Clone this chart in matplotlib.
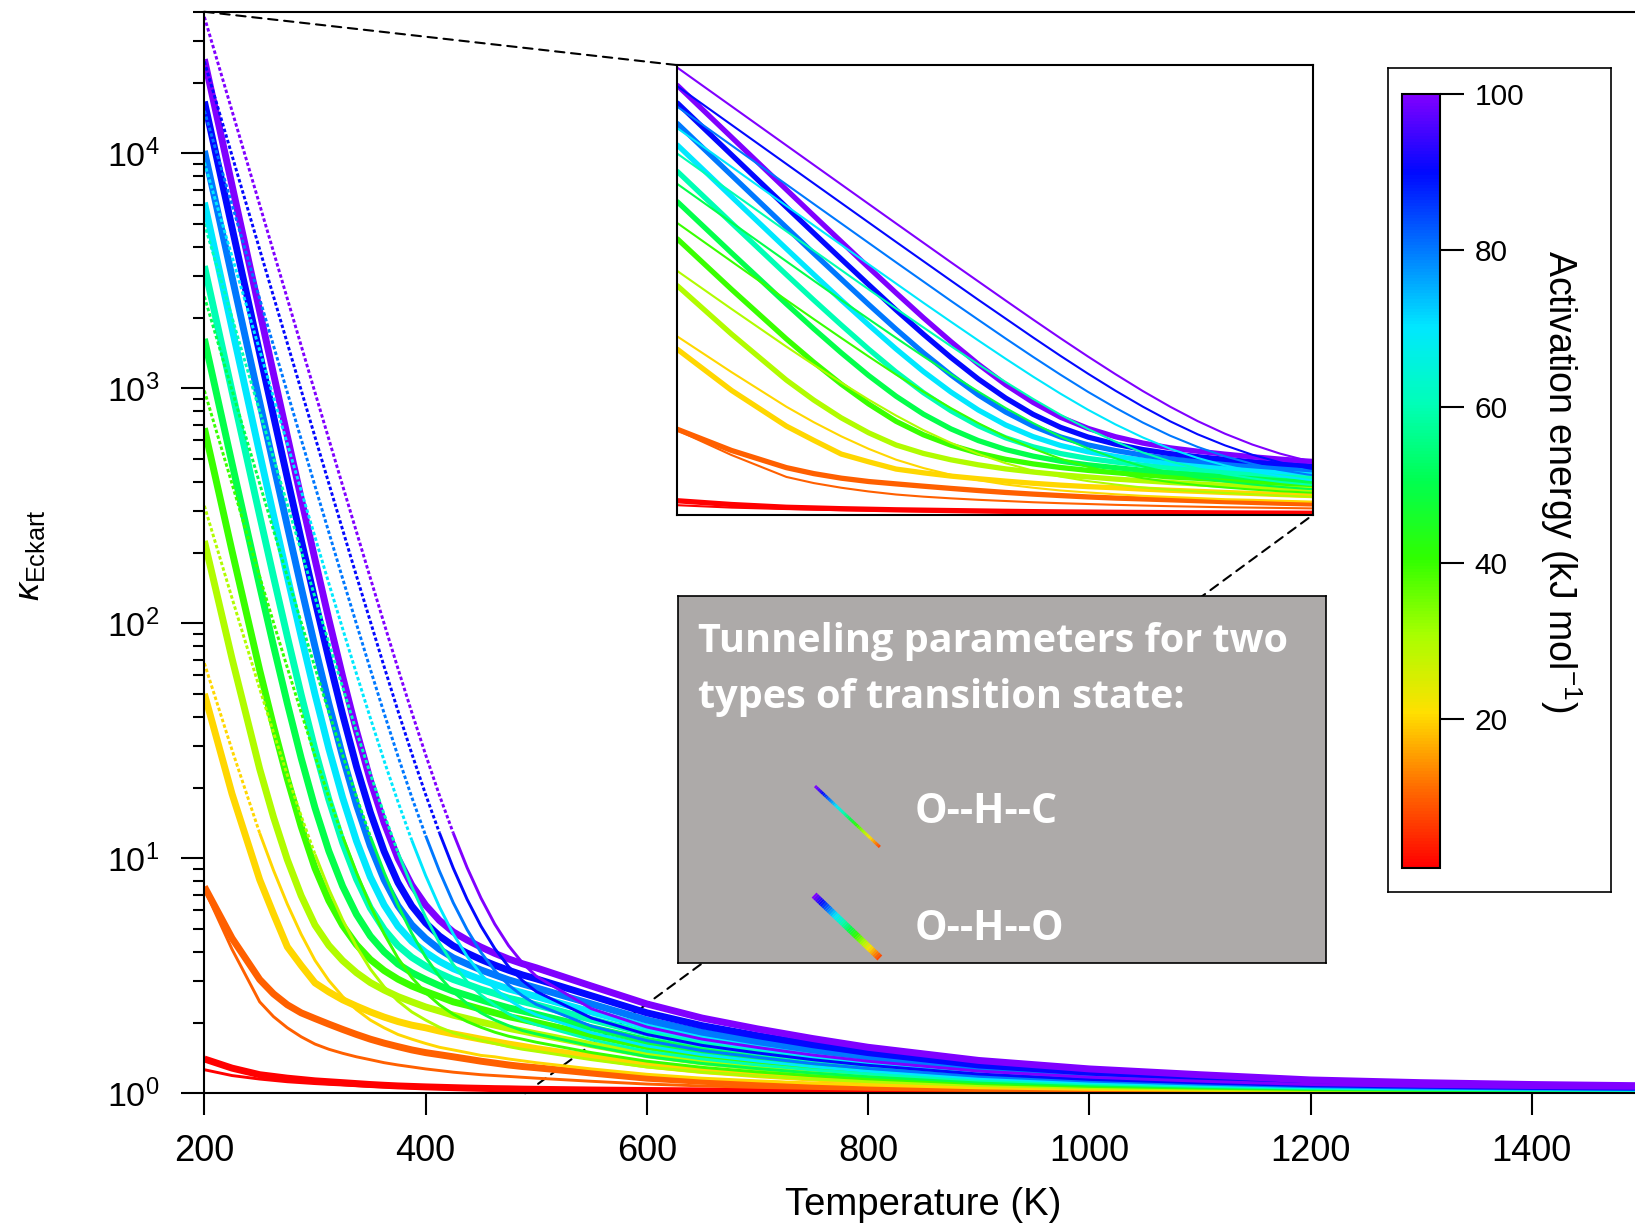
import matplotlib
matplotlib.use("Agg")
import matplotlib.pyplot as plt
import matplotlib.ticker as ticker
from matplotlib.colors import LinearSegmentedColormap, Normalize
from matplotlib.cm import ScalarMappable
from matplotlib.patches import ConnectionPatch
from matplotlib.collections import LineCollection
import numpy as np

temps = [200, 225, 250, 262.5, 275, 287.5, 300, 312.5, 325, 337.5,
         350, 362.5, 375, 387.5, 400, 412.5, 425, 437.5, 450, 462.5, 475,
         487.5, 500, 550, 600, 650, 700, 750, 800, 900, 1000, 1100, 1200,
         1300, 1400, 1500]

# activation energies (kJ/mol), one curve of each TS type per value
ea_values = [1, 10, 20, 30, 40, 50, 60, 70, 80, 90, 100]

# O--H--O transition states (thick lines)
oho_ea1 = [1.40, 1.28, 1.20, 1.18, 1.16, 1.145, 1.13, 1.12, 1.11, 1.10,
           1.09, 1.082, 1.075, 1.07, 1.065, 1.061, 1.057, 1.053, 1.05, 1.047, 1.045,
           1.042, 1.04, 1.033, 1.028, 1.024, 1.02, 1.017, 1.015, 1.011, 1.009,
           1.007, 1.006, 1.005, 1.0045, 1.004]
oho_ea10 = [7.57, 4.57, 3.05, 2.65, 2.38, 2.2, 2.08, 1.97, 1.87, 1.78,
            1.70, 1.635, 1.58, 1.53, 1.49, 1.46, 1.43, 1.40, 1.37, 1.345, 1.32,
            1.30, 1.285, 1.22, 1.16, 1.125, 1.10, 1.081, 1.066, 1.043, 1.03,
            1.022, 1.016, 1.013, 1.01, 1.009]
oho_ea20 = [50.1, 18.8, 8.11, 5.8, 4.2, 3.5, 2.95, 2.7, 2.5, 2.35,
            2.22, 2.11, 2.02, 1.95, 1.90, 1.84, 1.79, 1.745, 1.70, 1.66, 1.62,
            1.585, 1.55, 1.43, 1.32, 1.25, 1.20, 1.16, 1.13, 1.086, 1.061,
            1.045, 1.032, 1.025, 1.02, 1.018]
oho_ea30 = [224, 70.8, 24.0, 14.97, 9.86, 6.93, 5.20, 4.26, 3.67, 3.26,
            2.96, 2.75, 2.58, 2.45, 2.33, 2.24, 2.15, 2.08, 2.01, 1.95, 1.89,
            1.84, 1.79, 1.61, 1.46, 1.36, 1.29, 1.23, 1.19, 1.124, 1.087,
            1.064, 1.046, 1.036, 1.029, 1.025]
oho_ea40 = [676, 203, 63.2, 36.5, 21.8, 13.66, 9.08, 6.61, 5.18, 4.29,
            3.71, 3.33, 3.06, 2.86, 2.71, 2.58, 2.45, 2.37, 2.28, 2.20, 2.12,
            2.06, 2.00, 1.77, 1.58, 1.45, 1.365, 1.29, 1.24, 1.157, 1.11,
            1.081, 1.058, 1.046, 1.037, 1.032]
oho_ea50 = [1622, 479, 144, 80.2, 45.6, 26.7, 16.4, 10.74, 7.60, 5.77,
            4.67, 4.00, 3.55, 3.26, 3.05, 2.87, 2.72, 2.61, 2.50, 2.40, 2.31,
            2.24, 2.17, 1.90, 1.68, 1.53, 1.43, 1.34, 1.28, 1.184, 1.13,
            1.095, 1.068, 1.054, 1.044, 1.037]
oho_ea60 = [3311, 970, 287, 157.7, 87.8, 49.7, 29.0, 17.8, 11.65, 8.17,
            6.15, 4.98, 4.25, 3.79, 3.48, 3.24, 3.05, 2.91, 2.77, 2.66, 2.54,
            2.46, 2.38, 2.06, 1.80, 1.62, 1.50, 1.40, 1.33, 1.22, 1.152,
            1.112, 1.08, 1.063, 1.051, 1.044]
oho_ea70 = [6166, 1800, 528, 288, 158, 88.0, 49.9, 29.3, 18.1, 11.85,
            8.33, 6.33, 5.14, 4.43, 3.98, 3.64, 3.39, 3.21, 3.05, 2.91, 2.78,
            2.68, 2.58, 2.22, 1.92, 1.72, 1.58, 1.46, 1.38, 1.25, 1.175,
            1.129, 1.092, 1.073, 1.059, 1.051]
oho_ea80 = [10233, 2981, 872, 473, 259, 142.4, 79.5, 45.5, 27.1, 16.9,
            11.3, 8.11, 6.28, 5.21, 4.56, 4.10, 3.77, 3.55, 3.35, 3.19, 3.04,
            2.92, 2.81, 2.40, 2.05, 1.82, 1.66, 1.53, 1.43, 1.28, 1.20,
            1.147, 1.105, 1.083, 1.067, 1.058]
oho_ea90 = [16596, 4829, 1409, 763, 415, 227, 125, 70.6, 40.9, 24.6,
            15.7, 10.7, 7.88, 6.27, 5.31, 4.67, 4.24, 3.95, 3.71, 3.51, 3.34,
            3.19, 3.07, 2.60, 2.20, 1.94, 1.76, 1.61, 1.49, 1.32, 1.23,
            1.17, 1.12, 1.095, 1.077, 1.066]
oho_ea100 = [25119, 7304, 2128, 1151, 625, 340, 187, 104, 59.4, 34.9,
             21.5, 14.16, 10.0, 7.69, 6.32, 5.44, 4.86, 4.49, 4.19, 3.94, 3.73,
             3.56, 3.42, 2.86, 2.40, 2.09, 1.88, 1.71, 1.57, 1.38, 1.27,
             1.20, 1.14, 1.11, 1.09, 1.077]

# O--H--C transition states (thin lines)
ohc_ea1 = [1.26, 1.19, 1.15, 1.135, 1.12, 1.11, 1.10, 1.092, 1.085, 1.077,
           1.07, 1.065, 1.06, 1.055, 1.05, 1.047, 1.045, 1.042, 1.04, 1.037, 1.035,
           1.032, 1.03, 1.025, 1.02, 1.017, 1.015, 1.013, 1.011, 1.009, 1.007,
           1.005, 1.004, 1.0035, 1.003, 1.003]
ohc_ea10 = [7.4, 4.1, 2.45, 2.12, 1.9, 1.74, 1.62, 1.54, 1.48, 1.43,
            1.39, 1.35, 1.32, 1.295, 1.27, 1.25, 1.23, 1.215, 1.20, 1.19, 1.18,
            1.17, 1.16, 1.125, 1.095, 1.075, 1.06, 1.049, 1.04, 1.027, 1.018,
            1.013, 1.01, 1.007, 1.005, 1.004]
ohc_ea20 = [67.6, 28.9, 12.8, 8.89, 6.38, 4.75, 3.68, 3.02, 2.58, 2.27,
            2.05, 1.90, 1.78, 1.70, 1.63, 1.57, 1.53, 1.49, 1.45, 1.43, 1.40,
            1.375, 1.35, 1.27, 1.205, 1.16, 1.13, 1.104, 1.084, 1.055, 1.039,
            1.029, 1.02, 1.016, 1.013, 1.011]
ohc_ea30 = [316, 128, 52.7, 34.3, 22.6, 15.13, 10.4, 7.38, 5.47, 4.21,
            3.38, 2.84, 2.47, 2.22, 2.05, 1.91, 1.81, 1.74, 1.68, 1.63, 1.58,
            1.54, 1.51, 1.39, 1.295, 1.23, 1.186, 1.149, 1.121, 1.08, 1.056,
            1.041, 1.03, 1.023, 1.019, 1.016]
ohc_ea40 = [977, 392, 158, 100.8, 64.7, 41.8, 27.3, 18.21, 12.4, 8.70,
            6.30, 4.77, 3.76, 3.11, 2.68, 2.38, 2.17, 2.02, 1.91, 1.82, 1.75,
            1.70, 1.65, 1.49, 1.37, 1.29, 1.233, 1.187, 1.152, 1.10, 1.07,
            1.052, 1.037, 1.029, 1.024, 1.02]
ohc_ea50 = [2455, 981, 393, 249, 158, 101, 64.8, 41.9, 27.5, 18.29,
            12.4, 8.71, 6.32, 4.79, 3.80, 3.14, 2.70, 2.41, 2.20, 2.05, 1.94,
            1.85, 1.79, 1.59, 1.435, 1.34, 1.274, 1.22, 1.178, 1.117, 1.083,
            1.061, 1.044, 1.034, 1.028, 1.024]
ohc_ea60 = [5012, 1999, 798, 505, 320, 203, 129, 82.8, 53.4, 34.7,
            22.9, 15.4, 10.6, 7.58, 5.63, 4.36, 3.53, 2.99, 2.62, 2.37, 2.18,
            2.05, 1.96, 1.69, 1.51, 1.40, 1.32, 1.258, 1.209, 1.138, 1.097,
            1.071, 1.051, 1.04, 1.033, 1.028]
ohc_ea70 = [9120, 3635, 1450, 916, 580, 367, 233, 148, 94.8, 61.0,
            39.6, 26.0, 17.4, 11.93, 8.45, 6.21, 4.76, 3.83, 3.21, 2.79, 2.50,
            2.30, 2.16, 1.81, 1.59, 1.46, 1.372, 1.298, 1.242, 1.159, 1.112,
            1.083, 1.059, 1.047, 1.038, 1.032]
ohc_ea80 = [15136, 6031, 2404, 1518, 960, 607, 384, 244, 155, 99.3,
            63.8, 41.4, 27.2, 18.19, 12.5, 8.82, 6.47, 4.97, 3.98, 3.33, 2.89,
            2.60, 2.39, 1.93, 1.676, 1.52, 1.422, 1.338, 1.275, 1.181, 1.127,
            1.094, 1.067, 1.053, 1.043, 1.037]
ohc_ea90 = [24547, 9778, 3896, 2460, 1554, 982, 621, 394, 250, 159,
            102, 65.4, 42.4, 27.9, 18.7, 12.83, 9.08, 6.69, 5.15, 4.13, 3.46,
            3.02, 2.71, 2.09, 1.78, 1.60, 1.485, 1.39, 1.316, 1.208, 1.146,
            1.108, 1.077, 1.061, 1.049, 1.042]
ohc_ea100 = [38019, 15142, 6032, 3808, 2405, 1519, 960, 608, 385, 245,
             156, 99.7, 64.2, 41.8, 27.6, 18.54, 12.8, 9.13, 6.78, 5.25, 4.25,
             3.59, 3.15, 2.29, 1.915, 1.70, 1.567, 1.455, 1.369, 1.243, 1.171,
             1.126, 1.09, 1.071, 1.058, 1.05]

oho_curves = [oho_ea1, oho_ea10, oho_ea20, oho_ea30, oho_ea40, oho_ea50,
              oho_ea60, oho_ea70, oho_ea80, oho_ea90, oho_ea100]
ohc_curves = [ohc_ea1, ohc_ea10, ohc_ea20, ohc_ea30, ohc_ea40, ohc_ea50,
              ohc_ea60, ohc_ea70, ohc_ea80, ohc_ea90, ohc_ea100]

cbar_ticks = [20, 40, 60, 80, 100]

# igor-like rainbow, red at low Ea to violet at high Ea
rainbow = ["#FF0000", "#FF6A00", "#FFE000", "#A8FF00", "#30FF00", "#00FF50",
           "#00FFB8", "#00E8FF", "#0078FF", "#0008FF", "#8000FF"]
cmap = LinearSegmentedColormap.from_list(
    "rain", list(zip(np.linspace(0, 1, len(rainbow)), rainbow)))
norm = Normalize(vmin=1, vmax=100)

plt.rcParams["font.family"] = ["Liberation Sans", "DejaVu Sans"]
plt.rcParams["mathtext.fontset"] = "custom"
plt.rcParams["mathtext.rm"] = "Liberation Sans"
plt.rcParams["mathtext.it"] = "Liberation Sans:italic"
plt.rcParams["mathtext.default"] = "regular"

fig = plt.figure(figsize=(16.35, 12.25), dpi=100)
ax = fig.add_axes([0.125, 0.1075, 0.8795, 0.8829])
ax.set_facecolor("none")


def draw_curves(axis, lw_thick, lw_thin, dotted_above=None):
    for ea, kap in zip(ea_values, oho_curves):
        axis.plot(temps, kap, color=cmap(norm(ea)), lw=lw_thick,
                  solid_capstyle="butt")
    for ea, kap in zip(ea_values, ohc_curves):
        col = cmap(norm(ea))
        if dotted_above is None:
            axis.plot(temps, kap, color=col, lw=lw_thin, solid_capstyle="butt")
            continue
        # steep upper part looks dotted in the original (sparse points)
        n = sum(1 for k in kap if k >= dotted_above)
        if n > 0:
            axis.plot(temps[:n + 1], kap[:n + 1], color=col, lw=lw_thin,
                      linestyle=(0, (1.2, 0.8)), dash_capstyle="butt")
        axis.plot(temps[n:], kap[n:], color=col, lw=lw_thin,
                  solid_capstyle="butt")


draw_curves(ax, 5.0, 2.1, dotted_above=15)
ax.set_yscale("log")
ax.set_xlim(200, 1500)
ax.set_ylim(1, 4.0e4)
ax.xaxis.set_major_locator(ticker.MultipleLocator(200))
ax.xaxis.set_minor_locator(ticker.NullLocator())
ax.tick_params(axis="x", which="major", length=16, width=1.5, pad=13,
               labelsize=26, direction="out")
ax.tick_params(axis="y", which="major", length=16.5, width=1.5, pad=16,
               labelsize=24.5, direction="out")
ax.tick_params(axis="y", which="minor", length=8, width=1.5, direction="out")
for side in ["left", "bottom", "top"]:
    ax.spines[side].set_linewidth(1.5)
ax.spines["right"].set_visible(False)

fig.text(0.5645, 0.0165, "Temperature (K)", fontsize=27.5,
         ha="center", va="center")
fig.text(0.018, 0.547, r"$\mathit{\kappa}_{\mathrm{Eckart}}$", fontsize=26,
         rotation=90, ha="center", va="center")

# zoomed view of the low temperature region
ax_in = fig.add_axes([0.4139, 0.5796, 0.389, 0.3673])
draw_curves(ax_in, 3.8, 1.5)
ax_in.set_yscale("log")
ax_in.set_xlim(200, 490)
ax_in.set_ylim(1, 4.0e4)
ax_in.set_xticks([])
ax_in.set_yticks([])
ax_in.yaxis.set_minor_locator(ticker.NullLocator())
for sp in ax_in.spines.values():
    sp.set_linewidth(1.5)

for a_pt, b_pt in [((200, 4.0e4), (0, 1)), ((490, 1), (1, 0))]:
    con = ConnectionPatch(xyA=a_pt, coordsA=ax.transData,
                          xyB=b_pt, coordsB=ax_in.transAxes,
                          color="black", lw=1.5, linestyle=(0, (4.5, 3.2)))
    con.set_clip_on(False)
    ax.add_artist(con)

# grey annotation box
box = fig.add_axes([0.4144, 0.2139, 0.3966, 0.2996])
box.set_facecolor("#ADAAA9")
box.set_xticks([])
box.set_yticks([])
box.set_xlim(0, 1)
box.set_ylim(0, 1)
for sp in box.spines.values():
    sp.set_linewidth(1.2)
box_font = ["Open Sans", "DejaVu Sans"]
box.text(0.032, 0.8485, "Tunneling parameters for two", color="white",
         fontsize=28.5, fontweight="bold", family=box_font, va="baseline")
box.text(0.032, 0.695, "types of transition state:", color="white",
         fontsize=28.5, fontweight="bold", family=box_font, va="baseline")
box.text(0.365, 0.3815, "O--H--C", color="white", fontsize=29.5,
         fontweight="bold", family=box_font, va="baseline")
box.text(0.365, 0.0627, "O--H--O", color="white", fontsize=29.5,
         fontweight="bold", family=box_font, va="baseline")


def rainbow_stroke(axis, x0, y0, x1, y1, lw):
    n = 40
    xs = np.linspace(x0, x1, n + 1)
    ys = np.linspace(y0, y1, n + 1)
    segs = [[(xs[i], ys[i]), (xs[i + 1], ys[i + 1])] for i in range(n)]
    vals = np.linspace(100, 8, n)
    lc = LineCollection(segs, colors=[cmap(norm(v)) for v in vals],
                        linewidths=lw, capstyle="butt")
    axis.add_collection(lc)


rainbow_stroke(box, 0.212, 0.482, 0.312, 0.316, 2.2)
rainbow_stroke(box, 0.2105, 0.185, 0.312, 0.0136, 5.0)

# colour scale with its frame
frame = fig.add_axes([0.8487, 0.2715, 0.1364, 0.6732])
frame.set_facecolor("white")
frame.set_xticks([])
frame.set_yticks([])
for sp in frame.spines.values():
    sp.set_linewidth(1.2)

cax = fig.add_axes([0.8573, 0.2914, 0.0233, 0.632])
cb = fig.colorbar(ScalarMappable(norm=norm, cmap=cmap), cax=cax,
                  ticks=cbar_ticks)
cb.outline.set_linewidth(1.5)
cax.tick_params(length=17, width=1.5, labelsize=21.5, pad=8)
cax.yaxis.set_minor_locator(ticker.NullLocator())
fig.text(0.9547, 0.607, r"Activation energy (kJ mol$^{-1}$)", fontsize=27,
         rotation=270, ha="center", va="center")

fig.savefig("out.png", dpi=100)
